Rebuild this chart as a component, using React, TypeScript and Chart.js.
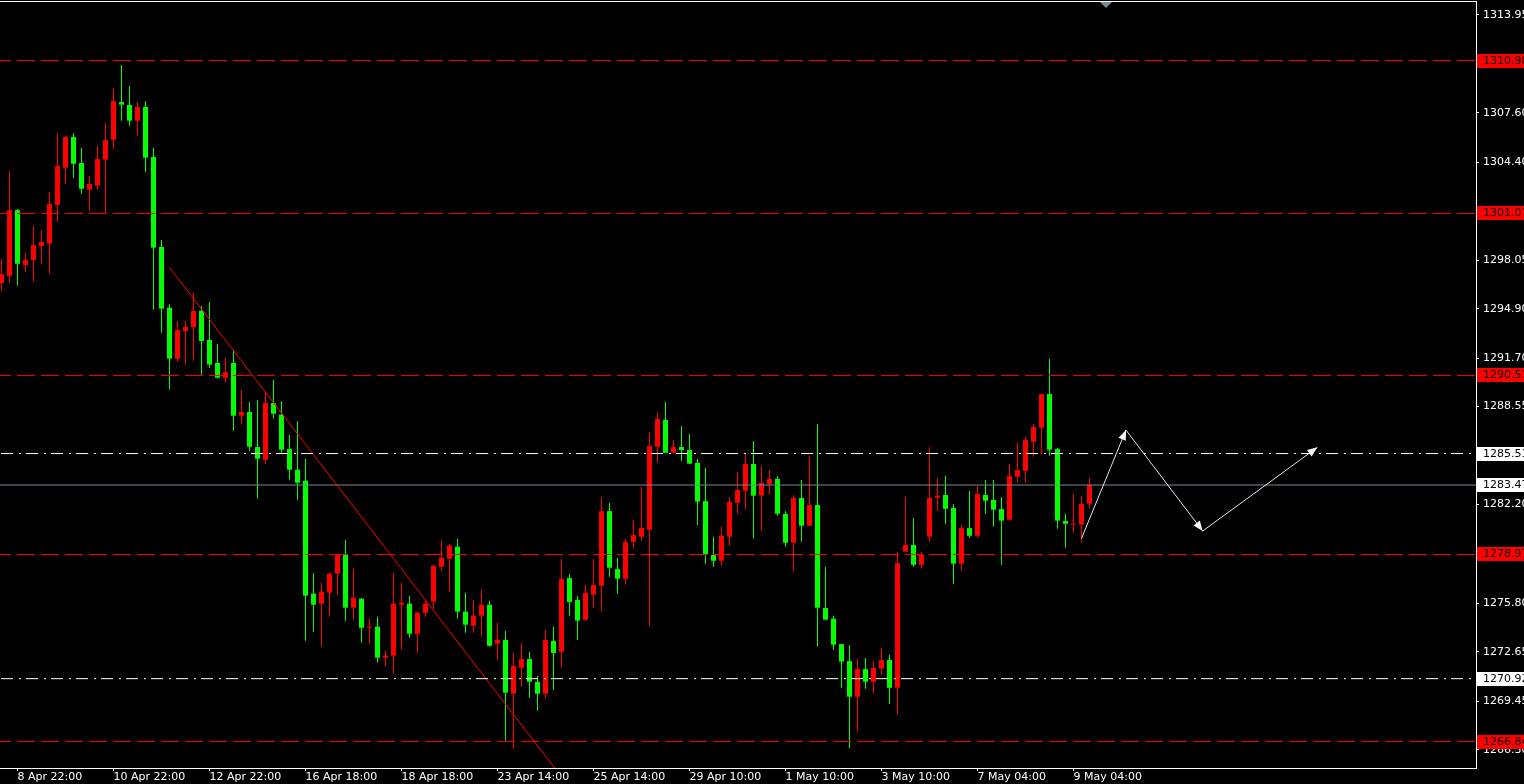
import React, { useEffect, useRef } from 'react';
import { Chart, registerables } from 'chart.js';

Chart.register(...registerables);

// H4 candles, index 0..136 (prices)
const opens = [
  1296.56, 1297.03, 1301.29, 1297.73, 1298.05, 1298.96, 1299.11, 1301.62, 1304.03, 1306.02,
  1304.34, 1302.61, 1302.87, 1304.55, 1305.85, 1308.29, 1308.10, 1307.08, 1307.97, 1304.73,
  1298.90, 1294.96, 1291.66, 1293.45, 1293.71, 1294.75, 1292.87, 1291.38, 1290.42, 1291.38,
  1287.96, 1288.20, 1285.93, 1285.11, 1288.78, 1288.03, 1285.80, 1284.46, 1283.75, 1276.43,
  1275.78, 1276.49, 1277.72, 1278.98, 1275.52, 1276.10, 1274.22, 1274.29, 1272.28, 1272.41,
  1275.71, 1275.78, 1273.83, 1275.19, 1275.91, 1278.17, 1278.69, 1279.47, 1275.26, 1274.35,
  1275.00, 1275.71, 1273.19, 1273.43, 1269.94, 1271.63, 1272.19, 1270.72, 1269.94, 1273.36,
  1272.66, 1277.44, 1276.02, 1274.74, 1276.36, 1276.94, 1281.78, 1278.02, 1277.40, 1279.79,
  1280.12, 1280.57, 1285.95, 1287.68, 1285.56, 1285.93, 1285.74, 1284.90, 1282.43, 1278.93,
  1278.56, 1280.12, 1282.32, 1283.10, 1284.83, 1282.78, 1283.53, 1283.86, 1281.59, 1279.73,
  1282.63, 1280.83, 1282.17, 1275.50, 1274.81, 1273.16, 1272.06, 1269.75, 1271.54, 1270.72,
  1271.57, 1272.13, 1270.33, 1279.15, 1279.58, 1278.30, 1280.12, 1282.65, 1282.82, 1281.98,
  1278.37, 1280.68, 1280.18, 1282.82, 1282.50, 1281.91, 1281.22, 1284.01, 1284.39, 1286.27,
  1287.18, 1289.37, 1285.80, 1281.14, 1280.90, 1280.90, 1282.26,
];
const highs = [
  1298.12, 1303.82, 1301.35, 1298.51, 1300.26, 1300.00, 1302.46, 1306.28, 1306.09, 1306.28,
  1305.31, 1303.50, 1305.44, 1306.93, 1309.20, 1310.69, 1309.33, 1308.29, 1308.36, 1305.31,
  1299.35, 1295.20, 1294.10, 1294.10, 1295.91, 1295.07, 1295.33, 1292.61, 1291.70, 1292.22,
  1289.63, 1288.85, 1288.98, 1289.52, 1290.28, 1288.91, 1286.71, 1287.62, 1285.15, 1277.79,
  1277.14, 1277.79, 1278.98, 1279.93, 1278.05, 1276.15, 1274.81, 1274.93, 1272.73, 1277.79,
  1277.14, 1276.30, 1275.26, 1275.97, 1278.30, 1279.93, 1279.67, 1279.99, 1276.49, 1276.04,
  1276.69, 1275.97, 1274.55, 1274.01, 1272.58, 1273.23, 1272.65, 1271.11, 1274.07, 1274.27,
  1278.67, 1277.70, 1276.28, 1276.99, 1278.67, 1282.69, 1282.30, 1278.74, 1279.97, 1281.20,
  1283.34, 1286.90, 1288.20, 1288.85, 1286.39, 1287.29, 1286.77, 1285.15, 1284.57, 1280.12,
  1280.77, 1282.69, 1284.31, 1285.48, 1286.32, 1284.70, 1284.44, 1284.05, 1281.78, 1282.82,
  1283.79, 1285.35, 1287.42, 1278.15, 1275.00, 1273.16, 1273.10, 1272.19, 1272.26, 1272.06,
  1272.92, 1272.47, 1279.13, 1282.69, 1281.33, 1279.15, 1285.93, 1283.92, 1284.05, 1282.24,
  1280.90, 1283.08, 1283.40, 1283.79, 1283.79, 1282.69, 1284.83, 1286.19, 1286.64, 1287.42,
  1289.37, 1291.63, 1285.87, 1281.61, 1282.88, 1282.76, 1283.92,
];
const lows = [
  1296.04, 1296.56, 1296.39, 1297.29, 1296.65, 1297.81, 1297.16, 1300.53, 1303.00, 1303.38,
  1302.35, 1301.25, 1302.61, 1301.08, 1305.24, 1307.08, 1306.75, 1306.11, 1303.77, 1294.83,
  1293.34, 1289.65, 1291.46, 1291.27, 1291.53, 1290.60, 1291.05, 1290.37, 1290.10, 1286.99,
  1287.38, 1285.69, 1282.58, 1284.85, 1287.77, 1285.56, 1283.81, 1282.52, 1273.38, 1273.96,
  1272.99, 1274.93, 1276.36, 1274.68, 1274.74, 1273.25, 1273.19, 1271.95, 1271.69, 1271.24,
  1272.80, 1273.57, 1272.60, 1274.93, 1275.45, 1277.92, 1276.56, 1274.81, 1273.90, 1273.90,
  1273.64, 1272.99, 1272.15, 1266.90, 1266.38, 1270.40, 1269.68, 1268.84, 1269.62, 1270.20,
  1271.63, 1275.00, 1273.44, 1274.68, 1275.52, 1275.26, 1277.52, 1276.43, 1277.01, 1279.34,
  1279.86, 1274.28, 1284.91, 1285.56, 1285.56, 1285.02, 1284.85, 1280.88, 1278.37, 1278.17,
  1278.24, 1279.54, 1281.61, 1281.87, 1279.99, 1280.51, 1282.84, 1281.48, 1279.47, 1277.85,
  1279.79, 1280.83, 1272.99, 1274.74, 1272.80, 1270.33, 1266.42, 1267.48, 1270.27, 1269.94,
  1271.18, 1269.29, 1268.58, 1279.15, 1278.17, 1278.04, 1279.79, 1281.80, 1280.96, 1277.07,
  1277.92, 1280.05, 1280.05, 1281.61, 1280.77, 1278.30, 1281.22, 1283.62, 1283.62, 1285.30,
  1285.43, 1285.37, 1280.64, 1279.41, 1280.38, 1279.73, 1281.93,
];
const closes = [
  1297.14, 1301.29, 1297.81, 1298.05, 1299.02, 1299.22, 1301.68, 1304.14, 1306.02, 1304.29,
  1302.67, 1302.98, 1304.60, 1305.83, 1308.36, 1308.12, 1307.08, 1307.97, 1304.68, 1298.85,
  1294.90, 1291.66, 1293.51, 1293.71, 1294.75, 1292.80, 1291.27, 1290.42, 1290.79, 1287.96,
  1288.20, 1285.95, 1285.17, 1288.78, 1288.09, 1285.76, 1284.46, 1283.62, 1276.30, 1275.71,
  1276.56, 1277.72, 1278.98, 1275.52, 1276.17, 1274.22, 1274.29, 1272.28, 1272.41, 1275.78,
  1275.84, 1273.83, 1275.19, 1275.78, 1278.24, 1278.76, 1279.54, 1275.26, 1274.42, 1275.00,
  1275.71, 1273.05, 1273.44, 1270.01, 1271.74, 1272.19, 1270.72, 1269.94, 1273.43, 1272.58,
  1277.38, 1275.89, 1274.68, 1276.47, 1276.99, 1281.78, 1278.11, 1277.40, 1279.77, 1280.23,
  1280.68, 1286.00, 1287.75, 1285.56, 1285.93, 1285.74, 1284.85, 1282.39, 1278.98, 1278.56,
  1280.18, 1282.37, 1283.15, 1284.83, 1282.78, 1283.60, 1283.86, 1281.61, 1279.73, 1282.63,
  1280.83, 1282.17, 1275.52, 1274.74, 1273.12, 1272.02, 1269.75, 1271.54, 1270.72, 1271.61,
  1272.13, 1270.33, 1278.41, 1279.58, 1278.30, 1278.95, 1282.63, 1282.78, 1281.93, 1278.37,
  1280.68, 1280.18, 1282.88, 1282.45, 1281.87, 1281.16, 1284.05, 1284.44, 1286.38, 1287.23,
  1289.37, 1285.76, 1281.16, 1280.96, 1280.96, 1282.24, 1283.47,
];

const xTickIndex = [2, 14, 26, 38, 50, 62, 74, 86, 98, 110, 122, 134];
const xTickLabels = [
  '8 Apr 22:00', '10 Apr 22:00', '12 Apr 22:00', '16 Apr 18:00', '18 Apr 18:00', '23 Apr 14:00',
  '25 Apr 14:00', '29 Apr 10:00', '1 May 10:00', '3 May 10:00', '7 May 04:00', '9 May 04:00',
];
const yTickValues = [
  1313.95, 1310.75, 1307.6, 1304.4, 1301.25, 1298.05, 1294.9, 1291.7, 1288.55, 1285.35,
  1282.2, 1279.0, 1275.8, 1272.65, 1269.45, 1266.3,
];

const redLevels = [1310.98, 1301.07, 1290.57, 1278.97, 1266.84];
const whiteLevels = [1285.51, 1270.92];
const bidLevel = 1283.47;

const trendX = [20.98, 69.4];
const trendY = [1297.58, 1264.96];

const arrowX = [135.0, 140.56, 150.15, 164.48];
const arrowY = [1280.01, 1287.03, 1280.49, 1285.91];

const shiftMarkerIndex = 138;

const X_MIN = -0.1875;
const X_MAX = 184.3125;
const Y_MIN = 1265.13;
const Y_MAX = 1314.838;

const UP = '#ff0000';
const DOWN = '#00ff00';
const FONT = { family: 'DejaVu Sans', size: 11 };

const mt4Plugin = {
  id: 'mt4',
  beforeDraw(chart: any) {
    const { ctx, width, height } = chart;
    ctx.save();
    ctx.fillStyle = '#000';
    ctx.fillRect(0, 0, width, height);
    ctx.restore();
  },
  afterDraw(chart: any) {
    const { ctx, chartArea, scales } = chart;
    const { top, bottom, right } = chartArea;
    const x = scales.x;
    const y = scales.y;
    ctx.save();
    ctx.beginPath();
    ctx.rect(chartArea.left, top, right - chartArea.left, bottom - top);
    ctx.clip();
    // arrowheads
    ctx.fillStyle = '#f4f4f4';
    for (let k = 0; k < arrowX.length - 1; k++) {
      const x0 = x.getPixelForValue(arrowX[k]);
      const y0 = y.getPixelForValue(arrowY[k]);
      const x1 = x.getPixelForValue(arrowX[k + 1]);
      const y1 = y.getPixelForValue(arrowY[k + 1]);
      const ang = Math.atan2(y1 - y0, x1 - x0);
      const len = 10;
      const hw = 4;
      const bx = x1 - len * Math.cos(ang);
      const by = y1 - len * Math.sin(ang);
      ctx.beginPath();
      ctx.moveTo(x1, y1);
      ctx.lineTo(bx + hw * Math.sin(ang), by - hw * Math.cos(ang));
      ctx.lineTo(bx - hw * Math.sin(ang), by + hw * Math.cos(ang));
      ctx.closePath();
      ctx.fill();
    }
    // shift marker
    const sx = Math.round(x.getPixelForValue(shiftMarkerIndex));
    ctx.fillStyle = '#7b8a9b';
    ctx.beginPath();
    ctx.moveTo(sx - 6, top + 1);
    ctx.lineTo(sx + 6, top + 1);
    ctx.lineTo(sx, top + 7);
    ctx.closePath();
    ctx.fill();
    ctx.restore();

    ctx.save();
    // frame
    ctx.fillStyle = '#ffffff';
    ctx.fillRect(0, top, right + 1, 1);
    ctx.fillRect(right, top, 1, bottom - top + 1);
    ctx.fillRect(0, bottom, right + 1, 1);

    // level labels on the price axis
    ctx.font = `${FONT.size}px "${FONT.family}"`;
    ctx.textBaseline = 'middle';
    ctx.textAlign = 'left';
    const drawLabel = (v: number, bg: string, fg: string) => {
      const py = Math.round(y.getPixelForValue(v));
      ctx.fillStyle = bg;
      ctx.fillRect(right + 1, py - 7, 60, 14);
      ctx.fillStyle = fg;
      ctx.fillText(v.toFixed(2), right + 7, py + 0.5);
    };
    redLevels.forEach((v) => drawLabel(v, '#ff0000', '#000000'));
    whiteLevels.forEach((v) => drawLabel(v, '#ffffff', '#000000'));
    drawLabel(bidLevel, '#ffffff', '#000000');
    ctx.restore();
  },
};

const candleColors = opens.map((o, i) => (closes[i] > o ? UP : DOWN));

const levelLine = (v: number, color: string, dash: number[], offset: number) => ({
  type: 'line' as const,
  data: [
    { x: X_MIN, y: v },
    { x: X_MAX, y: v },
  ],
  borderColor: color,
  borderWidth: 1,
  borderDash: dash,
  borderDashOffset: offset,
  pointRadius: 0,
  fill: false,
  tension: 0,
  order: 1,
});

export default function App() {
  const ref = useRef<HTMLCanvasElement | null>(null);

  useEffect(() => {
    if (!ref.current) return;
    const datasets: any[] = [
      {
        type: 'bar',
        data: lows.map((l, i) => ({ x: i, y: [l, highs[i]] })),
        backgroundColor: candleColors,
        borderWidth: 0,
        barThickness: 1,
        grouped: false,
        inflateAmount: 0,
        minBarLength: 1,
        order: 4,
      },
      {
        type: 'bar',
        data: opens.map((o, i) => ({ x: i, y: [o, closes[i]] })),
        backgroundColor: candleColors,
        borderWidth: 0,
        barThickness: 5,
        grouped: false,
        inflateAmount: 0,
        minBarLength: 1,
        order: 3,
      },
      ...redLevels.map((v) => levelLine(v, '#ff0000', [18, 6], 7)),
      ...whiteLevels.map((v) => levelLine(v, '#ffffff', [12, 6, 2, 5], 24)),
      levelLine(bidLevel, '#778899', [], 0),
      {
        type: 'line',
        data: trendX.map((xv, i) => ({ x: xv, y: trendY[i] })),
        borderColor: '#ff0000',
        borderWidth: 1,
        pointRadius: 0,
        fill: false,
        tension: 0,
        order: 1,
      },
      {
        type: 'line',
        data: arrowX.map((xv, i) => ({ x: xv, y: arrowY[i] })),
        borderColor: '#e6e6e6',
        borderWidth: 1,
        pointRadius: 0,
        fill: false,
        tension: 0,
        order: 0,
      },
    ];

    const chart = new Chart(ref.current, {
      type: 'bar',
      data: { datasets },
      options: {
        animation: false,
        responsive: false,
        devicePixelRatio: 1,
        events: [],
        layout: { padding: { top: 1, left: 0, right: 0, bottom: 0 } },
        plugins: { legend: { display: false }, tooltip: { enabled: false } },
        scales: {
          x: {
            type: 'linear',
            min: X_MIN,
            max: X_MAX,
            offset: false,
            border: { display: false },
            grid: {
              display: true,
              drawOnChartArea: false,
              drawTicks: true,
              tickLength: 3,
              color: '#ffffff',
              offset: false,
            },
            afterBuildTicks: (s: any) => {
              s.ticks = xTickIndex.map((v) => ({ value: v }));
            },
            afterFit: (s: any) => {
              s.height = 16;
              s.paddingLeft = 0;
              s.paddingRight = 0;
              s.paddingTop = 0;
              s.paddingBottom = 0;
            },
            ticks: {
              autoSkip: false,
              maxRotation: 0,
              minRotation: 0,
              align: 'start',
              color: '#ffffff',
              font: FONT,
              padding: 0,
              callback: (v: any) => {
                const k = xTickIndex.indexOf(Number(v));
                return k >= 0 ? xTickLabels[k] : '';
              },
            },
          },
          y: {
            type: 'linear',
            position: 'right',
            min: Y_MIN,
            max: Y_MAX,
            border: { display: false },
            grid: {
              display: true,
              drawOnChartArea: false,
              drawTicks: true,
              tickLength: 3,
              color: '#ffffff',
            },
            afterBuildTicks: (s: any) => {
              s.ticks = yTickValues.map((v) => ({ value: v }));
            },
            afterFit: (s: any) => {
              s.width = 48;
              s.paddingTop = 0;
              s.paddingBottom = 0;
              s.paddingLeft = 0;
              s.paddingRight = 0;
            },
            ticks: {
              autoSkip: false,
              color: '#ffffff',
              font: FONT,
              padding: 4,
              callback: (v: any) => Number(v).toFixed(2),
            },
          },
        },
      } as any,
      plugins: [mt4Plugin],
    });
    return () => chart.destroy();
  }, []);

  return (
    <div style={{ position: 'fixed', left: 0, top: 0, width: 1524, height: 784, background: '#000' }}>
      <canvas ref={ref} width={1524} height={784} style={{ display: 'block', width: 1524, height: 784 }} />
    </div>
  );
}
